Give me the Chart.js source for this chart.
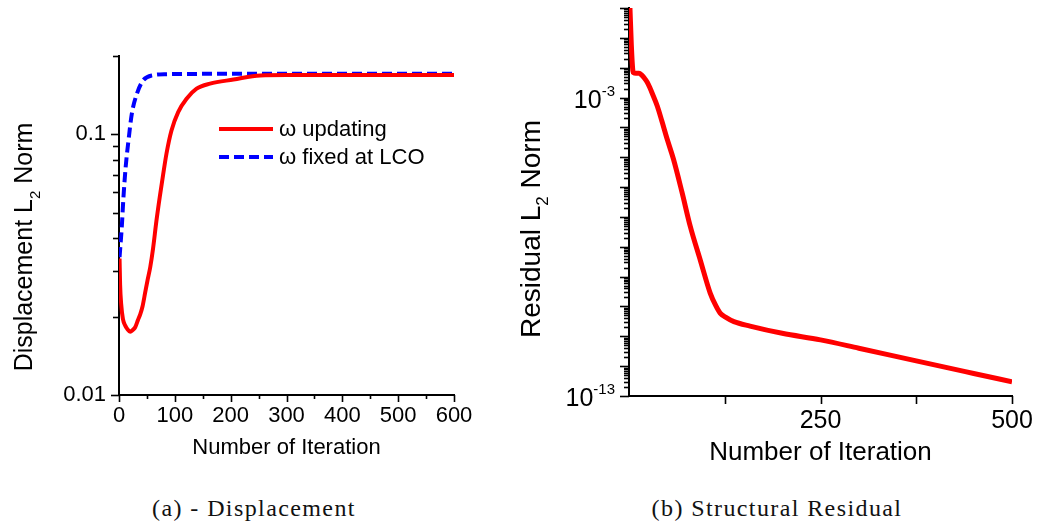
<!DOCTYPE html>
<html>
<head>
<meta charset="utf-8">
<script src="https://cdn.jsdelivr.net/npm/chart.js@4.4.1/dist/chart.umd.min.js"></script>
<style>
    html, body { margin: 0; padding: 0; background: #fff; }
    body { width: 1037px; height: 526px; position: relative; overflow: hidden; }
    canvas { position: absolute; top: 0; }
    #dispChart { left: 0; }
    #resChart { left: 500px; }
    .caption {
        position: absolute;
        top: 495px;
        font-family: "Liberation Serif", "Times New Roman", serif;
        font-size: 24px;
        letter-spacing: 1.4px;
        color: #111;
        white-space: nowrap;
        transform: translateX(-50%);
    }
</style>
</head>
<body>
<canvas id="dispChart" width="500" height="480"></canvas>
<canvas id="resChart" width="560" height="480"></canvas>
<div class="caption" style="left:254px">(a) - Displacement</div>
<div class="caption" style="left:777px">(b) Structural Residual</div>

<script>
// (a) displacement L2 norm vs iteration
const dispIterUpdating = [1, 2, 4, 7, 11, 15, 20, 25, 29, 34, 38, 42, 47, 51, 56, 61, 67, 73, 79, 85, 94, 106, 121, 139, 163, 205, 253, 300, 400, 500, 600];
const dispUpdating = [0.0334, 0.0265, 0.0222, 0.0196, 0.0185, 0.0179, 0.0175, 0.0178, 0.0182, 0.0194, 0.0204, 0.0218, 0.0248, 0.0275, 0.031, 0.0365, 0.0465, 0.0575, 0.070, 0.0843, 0.1035, 0.1218, 0.137, 0.1498, 0.1567, 0.1624, 0.1685, 0.169, 0.169, 0.169, 0.169];
const dispIterFixed = [1, 5, 8, 12, 17, 23, 32, 43, 61, 85, 150, 300, 450, 600];
const dispFixed = [0.0338, 0.0442, 0.0575, 0.0752, 0.0948, 0.1202, 0.1431, 0.161, 0.1688, 0.1703, 0.1708, 0.171, 0.171, 0.171];
const dispLabels = ['\u03c9 updating', '\u03c9 fixed at LCO'];

// (b) structural residual L2 norm vs iteration
const resIter = [0, 1, 3, 5, 6, 9, 13, 17, 20, 24, 27, 30, 37, 43, 50, 58, 69, 80, 93, 106, 113, 119, 126, 137, 158, 200, 250, 300, 375, 450, 500];
const residual = [5, 1.5, 0.06, 0.008, 0.0068, 0.0065, 0.0065, 0.0055, 0.0045, 0.0032, 0.0022, 0.00145, 5.1e-4, 1.6e-4, 3.9e-5, 8.7e-6, 7e-7, 4.8e-8, 3.6e-9, 2.8e-10, 1.1e-10, 6e-11, 4.4e-11, 3.1e-11, 2.2e-11, 1.26e-11, 7.6e-12, 4.0e-12, 1.5e-12, 5.7e-13, 3.0e-13];

// tick labels
const dispXLabels = [0, 100, 200, 300, 400, 500, 600];
const dispYLabels = [0.01, 0.1];
const resXLabels = [250, 500];
const resYLabels = [1e-3, 1e-13];

const FONT = '"Liberation Sans", Arial, Helvetica, sans-serif';
Chart.defaults.font.family = FONT;
Chart.defaults.color = '#000';

function toPoints(xs, ys) {
    return xs.map((x, i) => ({ x, y: ys[i] }));
}

// 1..9 x 10^n between min and max
function logTicks(scale) {
    const out = [];
    const lo = Math.floor(Math.log10(scale.min));
    const hi = Math.ceil(Math.log10(scale.max));
    for (let e = lo; e <= hi; e++) {
        for (let m = 1; m <= 9; m++) {
            const v = Number((m * Math.pow(10, e)).toPrecision(6));
            if (v >= scale.min * 0.9999 && v <= scale.max * 1.0001) out.push({ value: v });
        }
    }
    scale.ticks = out;
}

function sameValue(a, b) {
    return Math.abs(a - b) <= Math.abs(b) * 1e-6;
}

// draws the tick marks outward with a long/short length
const tickMarks = {
    id: 'tickMarks',
    afterDraw(chart, args, opts) {
        const ctx = chart.ctx;
        ctx.save();
        ctx.strokeStyle = '#000';
        ctx.lineWidth = 1.6;
        ['x', 'y'].forEach(id => {
            const scale = chart.scales[id];
            const cfg = opts[id];
            scale.ticks.forEach(t => {
                if (cfg.skipZero && t.value === 0) return;
                let major;
                if (cfg.log) {
                    const m = t.value / Math.pow(10, Math.floor(Math.log10(t.value) + 1e-9));
                    major = Math.abs(m - 1) < 1e-6;
                } else {
                    major = t.value % cfg.every === 0;
                }
                const len = major ? cfg.major : cfg.minor;
                const p = Math.round(scale.getPixelForValue(t.value)) + 0.5;
                ctx.beginPath();
                if (id === 'x') {
                    ctx.moveTo(p, scale.top);
                    ctx.lineTo(p, scale.top + len);
                } else {
                    ctx.moveTo(scale.right, p);
                    ctx.lineTo(scale.right - len, p);
                }
                ctx.stroke();
            });
        });
        ctx.restore();
    }
};

// rotated y title with a subscript
const yTitle = {
    id: 'yTitle',
    afterDraw(chart, args, opts) {
        const ctx = chart.ctx;
        const main = opts.size + 'px ' + FONT;
        const small = Math.round(opts.size * 0.6) + 'px ' + FONT;
        ctx.save();
        ctx.translate(opts.x, opts.y);
        ctx.rotate(-Math.PI / 2);
        ctx.fillStyle = '#000';
        ctx.textBaseline = 'alphabetic';
        ctx.font = main;
        const w1 = ctx.measureText(opts.before).width;
        const w3 = ctx.measureText(opts.after).width;
        ctx.font = small;
        const w2 = ctx.measureText(opts.sub).width;
        let x = -(w1 + w2 + w3) / 2;
        ctx.font = main;
        ctx.fillText(opts.before, x, 0);
        x += w1;
        ctx.font = small;
        ctx.fillText(opts.sub, x, opts.size * 0.3);
        x += w2;
        ctx.font = main;
        ctx.fillText(opts.after, x, 0);
        ctx.restore();
    }
};

// legend inside the plot area
const insideLegend = {
    id: 'insideLegend',
    afterDatasetsDraw(chart, args, opts) {
        const ctx = chart.ctx;
        chart.data.datasets.forEach((ds, i) => {
            const y = opts.top + i * opts.gap;
            ctx.save();
            ctx.strokeStyle = ds.borderColor;
            ctx.lineWidth = ds.borderWidth;
            ctx.setLineDash(ds.borderDash || []);
            ctx.beginPath();
            ctx.moveTo(opts.left, y);
            ctx.lineTo(opts.left + opts.length, y);
            ctx.stroke();
            ctx.setLineDash([]);
            ctx.fillStyle = '#000';
            ctx.font = opts.size + 'px ' + FONT;
            ctx.textBaseline = 'middle';
            ctx.fillText(ds.label, opts.left + opts.length + 6, y + 1);
            ctx.restore();
        });
    }
};

// 10^n labels for the residual axis
const powerLabels = {
    id: 'powerLabels',
    afterDraw(chart, args, opts) {
        const ctx = chart.ctx;
        const scale = chart.scales.y;
        ctx.save();
        ctx.fillStyle = '#000';
        ctx.textBaseline = 'alphabetic';
        resYLabels.forEach(v => {
            const y = scale.getPixelForValue(v);
            const exp = String(Math.round(Math.log10(v)));
            ctx.font = opts.small + 'px ' + FONT;
            const we = ctx.measureText(exp).width;
            const xe = scale.right - opts.gap - we;
            ctx.fillText(exp, xe, y - 2);
            ctx.font = opts.size + 'px ' + FONT;
            ctx.textAlign = 'right';
            ctx.fillText('10', xe, y + 10);
            ctx.textAlign = 'left';
        });
        ctx.restore();
    }
};

function lineSet(label, points, color, width, dash) {
    return {
        label,
        data: points,
        borderColor: color,
        backgroundColor: color,
        borderWidth: width,
        borderDash: dash || [],
        borderCapStyle: 'butt',
        pointRadius: 0,
        fill: false,
        cubicInterpolationMode: 'monotone'
    };
}

new Chart(document.getElementById('dispChart'), {
    type: 'line',
    data: {
        datasets: [
            lineSet(dispLabels[0], toPoints(dispIterUpdating, dispUpdating), '#ff0000', 4),
            lineSet(dispLabels[1], toPoints(dispIterFixed, dispFixed), '#0000ff', 4, [10, 5])
        ]
    },
    options: {
        responsive: false,
        animation: false,
        events: [],
        layout: { padding: { left: 0, top: 56, right: 46, bottom: 0 } },
        plugins: {
            legend: { display: false },
            tooltip: { enabled: false },
            tickMarks: {
                x: { every: 100, major: 7, minor: 4 },
                y: { log: true, major: 8, minor: 6 }
            },
            yTitle: { x: 32, y: 247, size: 25, before: 'Displacement L', sub: '2', after: ' Norm' },
            insideLegend: { left: 219, top: 129, gap: 28, length: 54, size: 22 }
        },
        scales: {
            x: {
                type: 'linear',
                min: 0,
                max: 600,
                afterFit: s => { s.height = 480 - 395; },
                ticks: {
                    stepSize: 50,
                    autoSkip: false,
                    maxRotation: 0,
                    padding: 8,
                    font: { size: 22 },
                    callback: v => dispXLabels.includes(v) ? String(v) : ''
                },
                grid: { display: false, drawTicks: false },
                border: { display: true, color: '#000', width: 2 },
                title: { display: true, text: 'Number of Iteration', font: { size: 22 }, padding: { top: 0, bottom: 19 } }
            },
            y: {
                type: 'logarithmic',
                min: 0.01,
                max: 0.2,
                afterFit: s => { s.width = 119; },
                afterBuildTicks: logTicks,
                ticks: {
                    autoSkip: false,
                    padding: 13,
                    font: { size: 22 },
                    callback: v => dispYLabels.some(l => sameValue(v, l)) ? String(v) : ''
                },
                grid: { display: false, drawTicks: false },
                border: { display: true, color: '#000', width: 2 }
            }
        }
    },
    plugins: [tickMarks, yTitle, insideLegend]
});

new Chart(document.getElementById('resChart'), {
    type: 'line',
    data: {
        datasets: [
            lineSet('Residual', toPoints(resIter, residual), '#ff0000', 5)
        ]
    },
    options: {
        responsive: false,
        animation: false,
        events: [],
        layout: { padding: { left: 0, top: 8, right: 48, bottom: 0 } },
        plugins: {
            legend: { display: false },
            tooltip: { enabled: false },
            tickMarks: {
                x: { every: 125, major: 8, minor: 8, skipZero: true },
                y: { log: true, major: 9, minor: 5 }
            },
            yTitle: { x: 40, y: 229, size: 28, before: 'Residual L', sub: '2', after: ' Norm' },
            powerLabels: { size: 25, small: 15, gap: 14 }
        },
        scales: {
            x: {
                type: 'linear',
                min: 0,
                max: 500,
                afterFit: s => { s.height = 480 - 396; },
                ticks: {
                    stepSize: 125,
                    autoSkip: false,
                    maxRotation: 0,
                    padding: 10,
                    font: { size: 25 },
                    callback: v => resXLabels.includes(v) ? String(v) : ''
                },
                grid: { display: false, drawTicks: false },
                border: { display: true, color: '#000', width: 2 },
                title: { display: true, text: 'Number of Iteration', font: { size: 26 }, padding: { top: 0, bottom: 12 } }
            },
            y: {
                type: 'logarithmic',
                min: 1e-13,
                max: 1,
                afterFit: s => { s.width = 129; },
                afterBuildTicks: logTicks,
                ticks: { display: false, autoSkip: false },
                grid: { display: false, drawTicks: false },
                border: { display: true, color: '#000', width: 2 }
            }
        }
    },
    plugins: [tickMarks, yTitle, powerLabels]
});
</script>
</body>
</html>
